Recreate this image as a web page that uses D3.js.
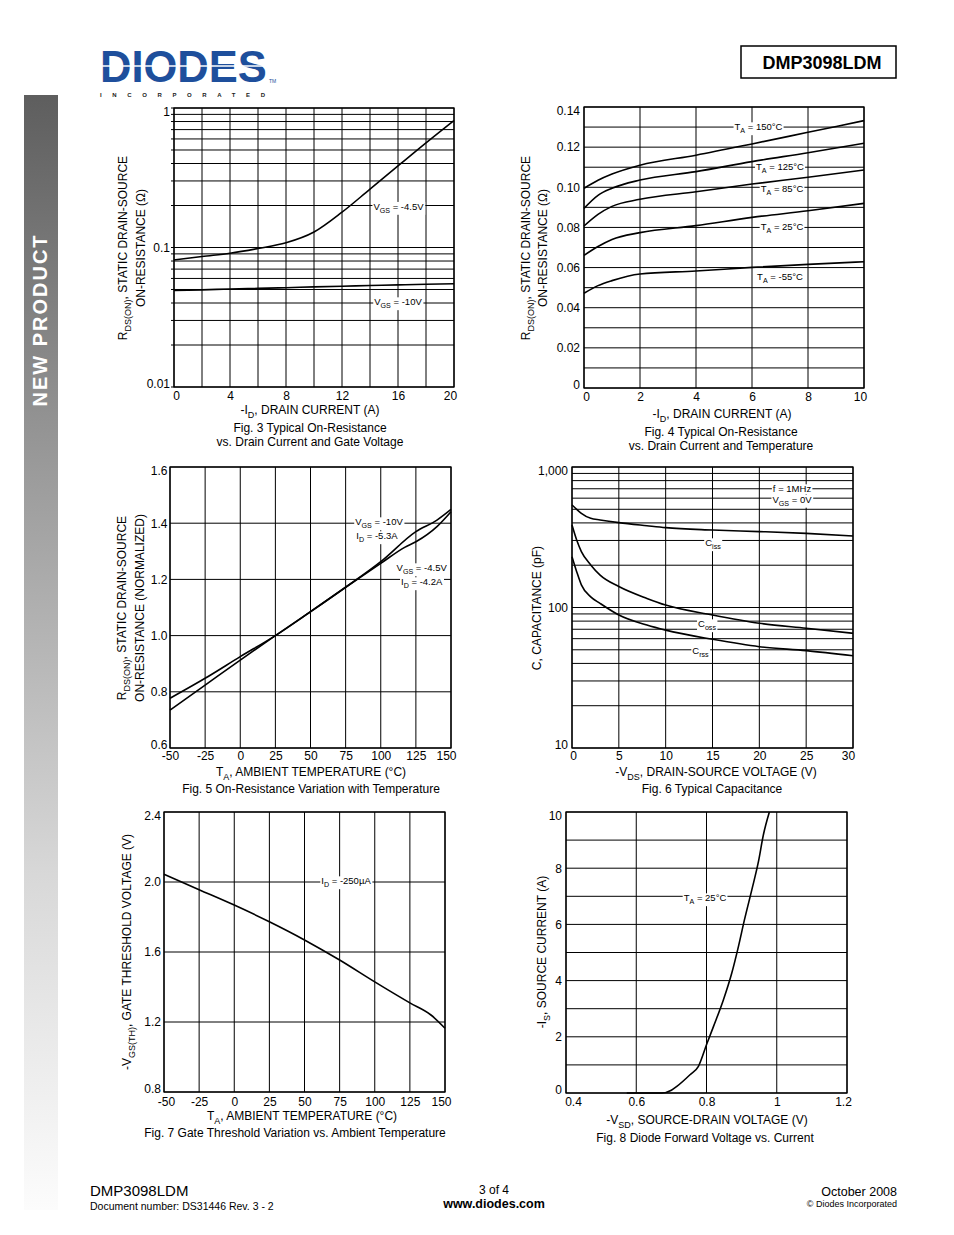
<!DOCTYPE html>
<html>
<head>
<meta charset="utf-8">
<script src="https://cdn.jsdelivr.net/npm/d3@7"></script>
<style>
  body { margin: 0; background: #fff; }
  text { font-family: "Liberation Sans", Arial, sans-serif; fill: #000; }
</style>
</head>
<body>
<div id="wrapper"></div>
<script>
// ---- Fig 3: Rds(on) vs drain current ----
var fig3Current = [0, 2, 4, 6, 8, 10, 12, 14, 16, 18, 20];
var fig3Vgs45 = [0.0813, 0.0863, 0.091, 0.0984, 0.108, 0.129, 0.179, 0.262, 0.384, 0.562, 0.813];
var fig3Vgs10 = [0.0493, 0.0497, 0.0504, 0.0509, 0.0515, 0.0522, 0.0528, 0.0534, 0.054, 0.0545, 0.055];
var fig3XTicks = [0, 4, 8, 12, 16, 20];
var fig3YTicks = [0.01, 0.1, 1];

// ---- Fig 4: Rds(on) vs current and temperature ----
var fig4Current = [0, 0.5, 1, 2, 4, 6, 8, 10];
var fig4T150 = [0.0995, 0.1035, 0.1066, 0.111, 0.116, 0.1216, 0.1274, 0.1332];
var fig4T125 = [0.0895, 0.096, 0.0995, 0.1036, 0.1078, 0.1128, 0.1172, 0.1219];
var fig4T85 = [0.0807, 0.0865, 0.0905, 0.094, 0.0978, 0.1016, 0.105, 0.1086];
var fig4T25 = [0.0661, 0.0705, 0.074, 0.0774, 0.0809, 0.085, 0.0883, 0.092];
var fig4Tm55 = [0.0472, 0.051, 0.0535, 0.0568, 0.0583, 0.0601, 0.0616, 0.0629];
var fig4XTicks = [0, 2, 4, 6, 8, 10];
var fig4YTicks = [0, 0.02, 0.04, 0.06, 0.08, 0.10, 0.12, 0.14];

// ---- Fig 5: normalized Rds(on) vs temperature ----
var fig5TempA = [-50, -25, 0, 25, 50, 75, 100, 125, 140, 150];
var fig5Vgs10 = [0.777, 0.848, 0.925, 1.0, 1.085, 1.172, 1.263, 1.37, 1.411, 1.449];
var fig5TempB = [-50, -25, 0, 25, 50, 75, 100, 117, 125, 140, 150];
var fig5Vgs45 = [0.735, 0.824, 0.913, 1.0, 1.085, 1.172, 1.257, 1.314, 1.334, 1.388, 1.441];
var fig5XTicks = [-50, -25, 0, 25, 50, 75, 100, 125, 150];
var fig5YTicks = [0.6, 0.8, 1.0, 1.2, 1.4, 1.6];

// ---- Fig 6: capacitance ----
var fig6Vds = [0, 0.5, 1, 2, 3, 5, 8, 10, 15, 20, 25, 30];
var fig6Ciss = [537, 500, 468, 431, 420, 402, 382, 370, 356, 347, 337, 323];
var fig6Coss = [386, 302, 250, 201, 170, 141, 116, 104, 88.5, 77.3, 71.1, 65.5];
var fig6Crss = [230, 180, 145, 119, 107, 88.5, 75, 69, 59.4, 52.6, 49.3, 45.4];
var fig6XTicks = [0, 5, 10, 15, 20, 25, 30];
var fig6YTicks = [10, 100, 1000];

// ---- Fig 7: gate threshold vs temperature ----
var fig7Temp = [-50, -25, 0, 25, 50, 75, 100, 125, 140, 150];
var fig7Vth = [2.044, 1.956, 1.868, 1.773, 1.669, 1.554, 1.429, 1.309, 1.24, 1.164];
var fig7XTicks = [-50, -25, 0, 25, 50, 75, 100, 125, 150];
var fig7YTicks = [0.8, 1.2, 1.6, 2.0, 2.4];

// ---- Fig 8: diode forward voltage ----
var fig8Vsd = [0.573, 0.62, 0.673, 0.70, 0.7155, 0.753, 0.777, 0.801, 0.82, 0.848, 0.872, 0.891, 0.908, 0.929, 0.948, 0.962, 0.979];
var fig8Is = [0, 0, 0, 0.1, 0.235, 0.65, 0.95, 1.75, 2.37, 3.31, 4.27, 5.22, 6.16, 7.23, 8.24, 9.19, 10.0];
var fig8XTicks = [0.4, 0.6, 0.8, 1, 1.2];
var fig8YTicks = [0, 2, 4, 6, 8, 10];

var svg = d3.select("#wrapper")
  .append("svg")
  .attr("width", 954)
  .attr("height", 1235);

// text with "_xx" parts as subscripts
function addParts(t, parts, size) {
  var shifted = false;
  parts.forEach(function(p) {
    if (p.charAt(0) == "_") {
      var s = t.append("tspan").text(p.slice(1)).attr("font-size", size * 0.75);
      if (!shifted) s.attr("dy", size * 0.3);
      shifted = true;
    } else {
      var s2 = t.append("tspan").text(p);
      if (shifted) s2.attr("dy", -size * 0.3);
      shifted = false;
    }
  });
}

function txt(x, y, parts, size, anchor, rotate, weight) {
  var t = svg.append("text")
    .attr("x", x).attr("y", y)
    .attr("font-size", size)
    .attr("text-anchor", anchor || "middle");
  if (weight) t.attr("font-weight", weight);
  if (rotate) t.attr("transform", "rotate(-90," + x + "," + y + ")");
  addParts(t, typeof parts == "string" ? [parts] : parts, size);
  return t;
}

// curve label on a white patch
function tag(cx, cy, parts, size) {
  size = size || 9.5;
  var lg = svg.append("g");
  var t = lg.append("text")
    .attr("x", cx).attr("y", cy + size * 0.35)
    .attr("text-anchor", "middle")
    .attr("font-size", size);
  addParts(t, parts, size);
  var b = t.node().getBBox();
  lg.insert("rect", "text")
    .attr("x", b.x - 1).attr("y", b.y + 1)
    .attr("width", b.width + 2).attr("height", b.height - 1)
    .attr("fill", "#fff");
}

function plot(o) {
  var g = svg.append("g").attr("transform", "translate(" + o.left + "," + o.top + ")");
  var x = d3.scaleLinear().domain(o.xDomain).range([0, o.w]);
  var y = (o.log ? d3.scaleLog() : d3.scaleLinear()).domain(o.yDomain).range([o.h, 0]);

  g.selectAll("line.vgrid")
    .data(o.xGrid)
    .enter()
    .append("line")
    .attr("x1", function(d) { return x(d); })
    .attr("x2", function(d) { return x(d); })
    .attr("y1", 0)
    .attr("y2", o.h)
    .attr("stroke", "#000")
    .attr("stroke-width", 1);

  var yGrid = o.log ? y.ticks() : o.yGrid;
  g.selectAll("line.hgrid")
    .data(yGrid)
    .enter()
    .append("line")
    .attr("x1", -(o.tickOut || 0))
    .attr("x2", o.w)
    .attr("y1", function(d) { return y(d); })
    .attr("y2", function(d) { return y(d); })
    .attr("stroke", "#000")
    .attr("stroke-width", 1);

  g.append("rect")
    .attr("width", o.w)
    .attr("height", o.h)
    .attr("fill", "none")
    .attr("stroke", "#000")
    .attr("stroke-width", 1.3);

  var xa = g.append("g")
    .attr("transform", "translate(0," + o.h + ")")
    .call(d3.axisBottom(x).tickValues(o.xTicks).tickSize(0).tickPadding(o.xPad)
      .tickFormat(o.xFmt || function(d) { return String(d); }));
  xa.select(".domain").remove();
  xa.attr("font-size", 12).attr("font-family", "Liberation Sans, Arial, sans-serif");
  var xn = o.xNudge || [0, 0];
  xa.selectAll(".tick text").attr("transform", function(d, i, n) {
    var dx = i == 0 ? xn[0] : (i == n.length - 1 ? xn[1] : 0);
    return "translate(" + dx + ",0)";
  });

  var ya = g.append("g")
    .call(d3.axisLeft(y).tickValues(o.yTicks).tickSize(0).tickPadding(o.yPad || 4)
      .tickFormat(o.yFmt));
  ya.select(".domain").remove();
  ya.attr("font-size", 12).attr("font-family", "Liberation Sans, Arial, sans-serif");
  ya.selectAll(".tick text").attr("transform", function(d) {
    var dy = d == o.yDomain[1] ? 4 : (d == o.yDomain[0] ? -3 : 0);
    return "translate(0," + dy + ")";
  });

  o.series.forEach(function(s) {
    g.append("path")
      .datum(d3.zip(s[0], s[1]))
      .attr("fill", "none")
      .attr("stroke", "#000")
      .attr("stroke-width", 1.6)
      .attr("d", d3.line()
        .x(function(d) { return x(d[0]); })
        .y(function(d) { return y(d[1]); })
        .curve(d3.curveMonotoneX));
  });
  return { g: g, x: x, y: y };
}

// ---------- page furniture ----------
var grad = svg.append("defs").append("linearGradient")
  .attr("id", "side").attr("x1", 0).attr("y1", 0).attr("x2", 0).attr("y2", 1);
grad.append("stop").attr("offset", "0%").attr("stop-color", "#5e5e5e");
grad.append("stop").attr("offset", "35%").attr("stop-color", "#9d9d9d");
grad.append("stop").attr("offset", "70%").attr("stop-color", "#d8d8d8");
grad.append("stop").attr("offset", "100%").attr("stop-color", "#fcfcfc");
svg.append("rect")
  .attr("x", 24).attr("y", 95).attr("width", 34).attr("height", 1115)
  .attr("fill", "url(#side)");
txt(47, 320, "NEW PRODUCT", 20, "middle", true, "bold")
  .style("fill", "#fff")
  .attr("letter-spacing", 2);

// logo
svg.append("text")
  .attr("x", 100).attr("y", 82)
  .attr("font-size", 43.5)
  .attr("font-weight", "bold")
  .style("fill", "#1e4f9c")
  .text("DIODES");
svg.append("line")
  .attr("x1", 100).attr("x2", 268).attr("y1", 66).attr("y2", 66)
  .attr("stroke", "#fff").attr("stroke-width", 1.5);
svg.append("text")
  .attr("x", 269).attr("y", 83)
  .attr("font-size", 5)
  .style("fill", "#1e4f9c")
  .text("TM");
svg.append("text")
  .attr("x", 100).attr("y", 97)
  .attr("font-size", 6)
  .attr("font-weight", "bold")
  .attr("textLength", 165)
  .attr("lengthAdjust", "spacing")
  .style("fill", "#222")
  .text("INCORPORATED");

svg.append("rect")
  .attr("x", 741).attr("y", 46).attr("width", 155).attr("height", 32)
  .attr("fill", "none").attr("stroke", "#000").attr("stroke-width", 1.5);
txt(822, 69, "DMP3098LDM", 18, "middle", false, "bold");

// footer
txt(90, 1196, "DMP3098LDM", 15, "start");
txt(90, 1210, "Document number: DS31446 Rev. 3 - 2", 10.5, "start");
txt(494, 1194, "3 of 4", 12, "middle");
txt(494, 1208, "www.diodes.com", 12.5, "middle", false, "bold");
txt(897, 1196, "October 2008", 12.5, "end");
txt(897, 1207, "\u00a9 Diodes Incorporated", 9, "end");

// ---------- Fig 3 ----------
plot({
  left: 174, top: 108, w: 280, h: 279,
  xDomain: [0, 20], yDomain: [0.01, 1], log: true,
  xGrid: d3.range(0, 21, 2), xTicks: fig3XTicks, xPad: 4, xNudge: [2, -4],
  yTicks: fig3YTicks, yFmt: function(d) { return String(d); }, tickOut: 3,
  series: [[fig3Current, fig3Vgs45], [fig3Current, fig3Vgs10]]
});
tag(398.5, 206.6, ["V", "_GS", " = -4.5V"]);
tag(398, 302, ["V", "_GS", " = -10V"]);
txt(127, 248, ["R", "_DS(ON)", ", STATIC DRAIN-SOURCE"], 12, "middle", true);
txt(144.5, 248, "ON-RESISTANCE (\u03a9)", 12, "middle", true);
txt(310, 414, ["-I", "_D", ", DRAIN CURRENT (A)"], 12);
txt(310, 432, "Fig. 3 Typical On-Resistance", 12);
txt(310, 446, "vs. Drain Current and Gate Voltage", 12);

// ---------- Fig 4 ----------
plot({
  left: 584, top: 107, w: 280, h: 281,
  xDomain: [0, 10], yDomain: [0, 0.14],
  xGrid: d3.range(0, 11, 2), yGrid: d3.range(0, 0.1401, 0.01),
  xTicks: fig4XTicks, xPad: 4, xNudge: [2, -4],
  yTicks: fig4YTicks, yFmt: function(d) { return d == 0 ? "0" : d.toFixed(2); },
  series: [[fig4Current, fig4T150], [fig4Current, fig4T125], [fig4Current, fig4T85],
           [fig4Current, fig4T25], [fig4Current, fig4Tm55]]
});
tag(758.5, 127, ["T", "_A", " = 150\u00b0C"]);
tag(780, 167, ["T", "_A", " = 125\u00b0C"]);
tag(782, 189, ["T", "_A", " = 85\u00b0C"]);
tag(782, 227, ["T", "_A", " = 25\u00b0C"]);
tag(780, 277, ["T", "_A", " = -55\u00b0C"]);
txt(530, 248, ["R", "_DS(ON)", ", STATIC DRAIN-SOURCE"], 12, "middle", true);
txt(547, 248, "ON-RESISTANCE (\u03a9)", 12, "middle", true);
txt(722, 418, ["-I", "_D", ", DRAIN CURRENT (A)"], 12);
txt(721, 436, "Fig. 4 Typical On-Resistance", 12);
txt(721, 450, "vs. Drain Current and Temperature", 12);

// ---------- Fig 5 ----------
plot({
  left: 170, top: 467, w: 281, h: 281,
  xDomain: [-50, 150], yDomain: [0.6, 1.6],
  xGrid: d3.range(-50, 151, 25), yGrid: d3.range(0.6, 1.601, 0.2),
  xTicks: fig5XTicks, xPad: 3.5, xNudge: [0, -5],
  yTicks: fig5YTicks, yFmt: function(d) { return d.toFixed(1); }, yPad: 2.5,
  series: [[fig5TempA, fig5Vgs10], [fig5TempB, fig5Vgs45]]
});
tag(379, 522, ["V", "_GS", " = -10V"]);
tag(377, 536, ["I", "_D", " = -5.3A"]);
tag(421.7, 568, ["V", "_GS", " = -4.5V"]);
tag(421.7, 582, ["I", "_D", " = -4.2A"]);
txt(126, 608, ["R", "_DS(ON)", ", STATIC DRAIN-SOURCE"], 12, "middle", true);
txt(143.5, 608, "ON-RESISTANCE (NORMALIZED)", 12, "middle", true);
txt(311, 776, ["T", "_A", ", AMBIENT TEMPERATURE (\u00b0C)"], 12);
txt(311, 793, "Fig. 5 On-Resistance Variation with Temperature", 12);

// ---------- Fig 6 ----------
plot({
  left: 572, top: 467, w: 281, h: 281,
  xDomain: [0, 30], yDomain: [10, 1000], log: true,
  xGrid: d3.range(0, 31, 5), xTicks: fig6XTicks, xPad: 3.5, xNudge: [1, -5],
  yTicks: fig6YTicks, yFmt: d3.format(","),
  series: [[fig6Vds, fig6Ciss], [fig6Vds, fig6Coss], [fig6Vds, fig6Crss]]
});
tag(792, 489, ["f = 1MHz"]);
tag(792, 499.5, ["V", "_GS", " = 0V"]);
tag(713, 543, ["C", "_iss"]);
tag(707, 624, ["C", "_oss"]);
tag(700.5, 650.5, ["C", "_rss"]);
txt(541, 608, "C, CAPACITANCE (pF)", 12, "middle", true);
txt(716, 776, ["-V", "_DS", ", DRAIN-SOURCE VOLTAGE (V)"], 12);
txt(712, 793, "Fig. 6 Typical Capacitance", 12);

// ---------- Fig 7 ----------
plot({
  left: 164, top: 812, w: 281, h: 280,
  xDomain: [-50, 150], yDomain: [0.8, 2.4],
  xGrid: d3.range(-50, 151, 25), yGrid: d3.range(0.8, 2.401, 0.4),
  xTicks: fig7XTicks, xPad: 5, xNudge: [2, -4],
  yTicks: fig7YTicks, yFmt: function(d) { return d.toFixed(1); }, yPad: 3,
  series: [[fig7Temp, fig7Vth]]
});
tag(346, 881, ["I", "_D", " = -250\u00b5A"]);
txt(131, 952, ["-V", "_GS(TH)", ", GATE THRESHOLD VOLTAGE (V)"], 12, "middle", true);
txt(302, 1120, ["T", "_A", ", AMBIENT TEMPERATURE (\u00b0C)"], 12);
txt(295, 1137, "Fig. 7 Gate Threshold Variation vs. Ambient Temperature", 12);

// ---------- Fig 8 ----------
plot({
  left: 566, top: 812, w: 281, h: 281,
  xDomain: [0.4, 1.2], yDomain: [0, 10],
  xGrid: fig8XTicks, yGrid: d3.range(0, 11, 1),
  xTicks: fig8XTicks, xPad: 4, xNudge: [7, -4],
  yTicks: fig8YTicks, yFmt: function(d) { return String(d); },
  series: [[fig8Vsd, fig8Is]]
});
tag(705, 898, ["T", "_A", " = 25\u00b0C"]);
txt(546, 952, ["-I", "_S", ", SOURCE CURRENT (A)"], 12, "middle", true);
txt(707, 1124, ["-V", "_SD", ", SOURCE-DRAIN VOLTAGE (V)"], 12);
txt(705, 1142, "Fig. 8 Diode Forward Voltage vs. Current", 12);
</script>
</body>
</html>
